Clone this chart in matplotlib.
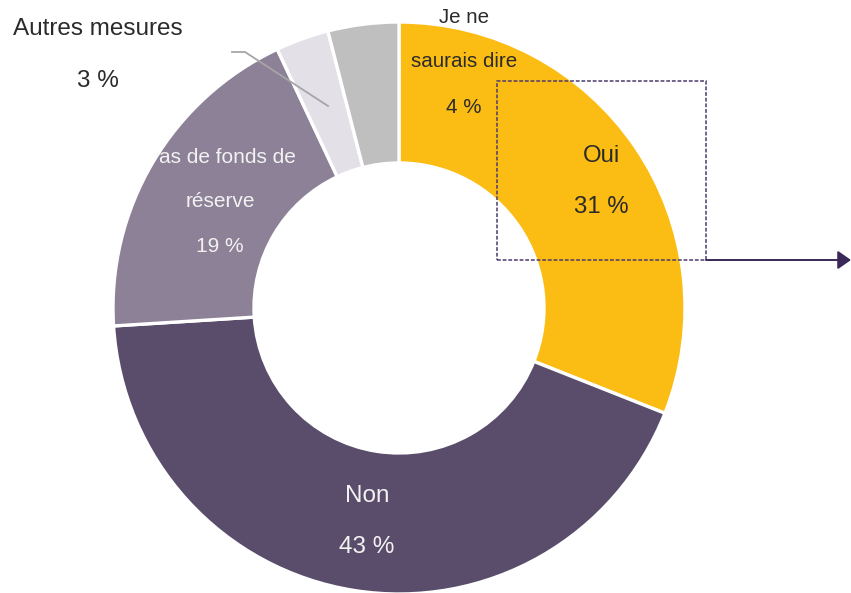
import matplotlib
matplotlib.use("Agg")
import matplotlib.pyplot as plt
from matplotlib.patches import Rectangle
from matplotlib.transforms import Bbox, TransformedBbox

categories = ["Oui", "Non", "Pas de fonds de\nréserve", "Autres mesures", "Je ne\nsaurais dire"]
values = [31, 43, 19, 3, 4]
colors = ["#FBBC13", "#5A4D6B", "#8C8197", "#E3E0E8", "#BFBFBF"]

W, H = 851, 593
fig = plt.figure(figsize=(W / 100, H / 100), dpi=100)
ax = fig.add_axes([0, 0, 1, 1])
plt.rcParams['font.family'] = ['Liberation Sans', 'DejaVu Sans']

def Y(y):
    return H - y

cx, cy, R = 399, Y(308), 286
ax.pie(values, colors=colors, startangle=90, counterclock=False,
       center=(cx, cy), radius=R,
       wedgeprops=dict(width=141, edgecolor="white", linewidth=2.4))
ax.set_aspect("equal")
ax.set_xlim(0, W)
ax.set_ylim(0, H)
ax.axis("off")

def pct(v):
    return f"{v} %"

layout = {
    0: dict(x=601, ys=[162, 213], size=17.3, color="#2B2B2B"),
    1: dict(x=367, ys=[502, 553], size=17.5, color="#F2F2F2"),
    2: dict(x=220, ys=[163, 207, 252], size=15, color="#F2F2F2"),
    3: dict(x=98, ys=[35, 87], size=17.5, color="#2B2B2B"),
    4: dict(x=464, ys=[23, 67, 113], size=14.8, color="#2B2B2B"),
}

clipbox = TransformedBbox(Bbox([[157, 0], [W, H]]), ax.transData)
for i, (cat, v) in enumerate(zip(categories, values)):
    L = layout[i]
    lines = cat.split("\n") + [pct(v)]
    for j, (line, yb) in enumerate(zip(lines, L["ys"])):
        t = ax.text(L["x"], Y(yb), line, ha="center", va="baseline",
                    fontsize=L["size"], color=L["color"])
        if i == 2 and j == 0:
            t.set_clip_box(clipbox)
            t.set_clip_on(True)

# leader line for "Autres mesures"
ax.plot([232, 245, 328], [Y(52), Y(52), Y(106)], color="#A6A6A6", lw=1.3)

# dashed highlight box and arrow
ax.add_patch(Rectangle((497, Y(260)), 706 - 497, 260 - 81, fill=False,
                       edgecolor="#4B3B6B", lw=1.1, linestyle=(0, (2.5, 1.2))))
ax.annotate("", xy=(851, Y(260)), xytext=(706, Y(260)),
            arrowprops=dict(arrowstyle="-|>,head_length=0.4,head_width=0.28",
                            color="#3A2858", lw=1.4, mutation_scale=20,
                            shrinkA=0, shrinkB=0))

fig.savefig("out.png", dpi=100)
